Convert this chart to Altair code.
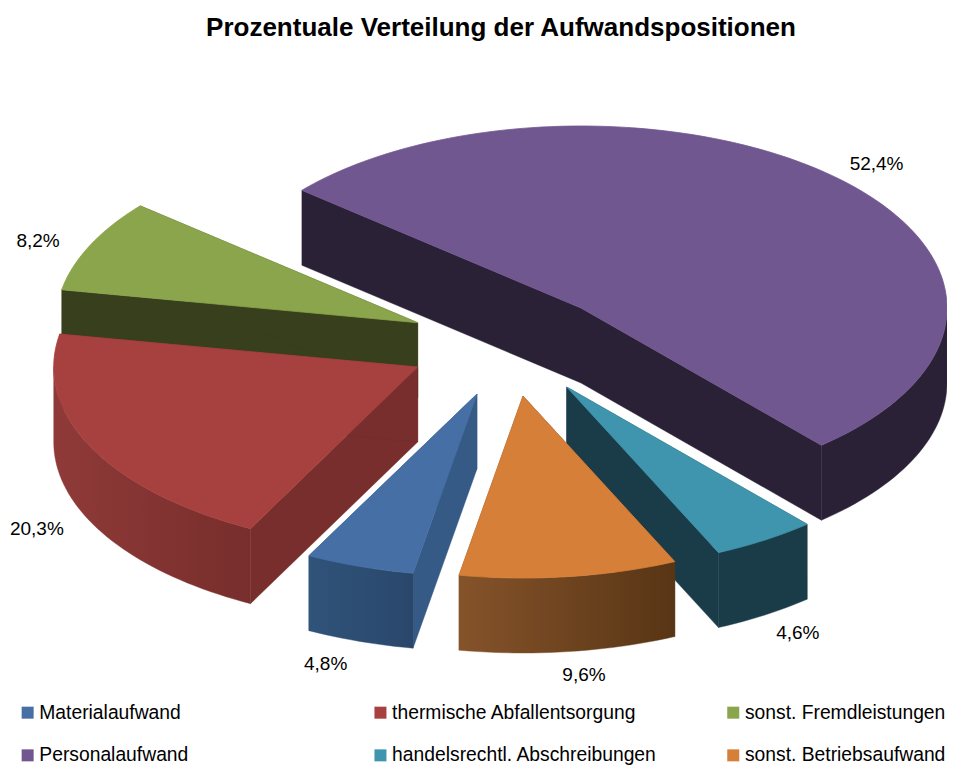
import math
import altair as alt
import pandas as pd

TITLE = "Prozentuale Verteilung der Aufwandspositionen"
# clockwise from the start of the largest slice
NAMES = ["Personalaufwand", "handelsrechtl. Abschreibungen", "sonst. Betriebsaufwand",
         "Materialaufwand", "thermische Abfallentsorgung", "sonst. Fremdleistungen"]
VALUES = [52.4, 4.6, 9.6, 4.8, 20.3, 8.2]
LABELS = ["52,4%", "4,6%", "9,6%", "4,8%", "20,3%", "8,2%"]
# the legend is filled column by column
LEGEND_ORDER = ["Materialaufwand", "Personalaufwand", "thermische Abfallentsorgung",
                "handelsrechtl. Abschreibungen", "sonst. Fremdleistungen", "sonst. Betriebsaufwand"]
TOP_COLORS = ["#71578F", "#4095AE", "#D67F39", "#4670A5", "#A6413F", "#8AA54B"]
SIDE_COLORS = ["#2B2137", "#1A3C48", "#5E3716", "#355A85", "#772E2C", "#383F1D"]
FRONT_LEFT = ["#2B2137", "#1A3C48", "#85532A", "#305379", "#8F3A38", "#383F1D"]
FRONT_RIGHT = ["#2B2137", "#1A3C48", "#583515", "#2A476B", "#772E2C", "#383F1D"]

# layout of the exploded, tilted pie
START = 310.3
DEPTH = 75
APEX = [(581, 308), (566.7, 387), (523, 396), (477, 394), (417.7, 367), (417.7, 322.7)]
RADII = [(366, 182), (366, 182), (366, 182), (366, 182), (364, 182), (362, 182)]
LABEL_SHIFT = [(38.5, -14.5), (33, 93), (15, 98), (-34, 98), (-54, 82), (-52, -4)]
DRAW_ORDER = [0, 5, 4, 1, 3, 2]


def rim(k, deg, drop=0):
    ax, ay = APEX[k]
    a, b = RADII[k]
    t = math.radians(deg)
    return ax + a * math.sin(t), ay - b * math.cos(t) + drop


def arc(k, d0, d1, drop=0):
    n = max(2, int(abs(d1 - d0) / 1.5) + 2)
    return [rim(k, d0 + (d1 - d0) * i / (n - 1), drop) for i in range(n)]


def frame(pts, poly=0, **extra):
    pts = list(pts) + [pts[0]]
    return pd.DataFrame([{"x": p[0], "y": p[1], "i": i, "poly": poly, **extra} for i, p in enumerate(pts)])


X = alt.X("x:Q", axis=None, scale=alt.Scale(domain=[8, 947], nice=False, zero=False))
Y = alt.Y("y:Q", axis=None, scale=alt.Scale(domain=[8, 766], nice=False, zero=False, reverse=True))

bounds = []
acc = START
for v in VALUES:
    bounds.append((acc, acc + v * 3.6))
    acc += v * 3.6

layers = []
fill_scale = alt.Scale(domain=LEGEND_ORDER, range=[TOP_COLORS[NAMES.index(n)] for n in LEGEND_ORDER])
legend = alt.Legend(orient="none", legendX=10, legendY=695, columns=3, gridAlign="all", title=None,
                    symbolType="square", symbolSize=144, symbolStrokeWidth=0, labelFont="Liberation Sans",
                    labelFontSize=19.3, labelColor="#000000", labelLimit=330, labelOffset=2,
                    columnPadding=65.8, rowPadding=22.7)

for k in DRAW_ORDER:
    d0, d1 = bounds[k]
    apex = APEX[k]
    # radial cut faces
    walls = []
    for poly, d in enumerate((d0, d1)):
        p = rim(k, d)
        q = rim(k, d, DEPTH)
        walls.append(frame([apex, p, q, (apex[0], apex[1] + DEPTH)], poly))
    layers.append(alt.Chart(pd.concat(walls)).mark_line(
        fill=SIDE_COLORS[k], stroke=SIDE_COLORS[k], strokeWidth=0.4).encode(
        x=X, y=Y, order="i:Q", detail="poly:N"))
    # outer rim, only the part that faces the viewer
    lo, hi = max(d0 % 360, 90), min(d1 % 360 if d1 % 360 > d0 % 360 else 360, 270)
    if k == 0:
        lo, hi = 90, d1 % 360
    if hi > lo:
        grad = alt.LinearGradient(gradient="linear", x1=0, y1=0, x2=1, y2=0,
                                  stops=[alt.GradientStop(color=FRONT_LEFT[k], offset=0),
                                         alt.GradientStop(color=FRONT_RIGHT[k], offset=1)])
        front = frame(arc(k, lo, hi) + arc(k, hi, lo, DEPTH))
        layers.append(alt.Chart(front).mark_line(fill=grad, stroke=grad, strokeWidth=0.4).encode(
            x=X, y=Y, order="i:Q"))
    # top face
    top = frame([apex] + arc(k, d0, d1), name=NAMES[k])
    layers.append(alt.Chart(top).mark_line(stroke=TOP_COLORS[k], strokeWidth=0.8).encode(
        x=X, y=Y, order="i:Q",
        fill=alt.Fill("name:N", scale=fill_scale, legend=legend)))

label_rows = []
for k, text in enumerate(LABELS):
    mid = (bounds[k][0] + bounds[k][1]) / 2
    px, py = rim(k, mid)
    label_rows.append({"x": px + LABEL_SHIFT[k][0], "y": py + LABEL_SHIFT[k][1], "t": text})
layers.append(alt.Chart(pd.DataFrame(label_rows)).mark_text(
    font="Liberation Sans", fontSize=19, color="#000000", align="center", baseline="middle"
).encode(x=X, y=Y, text="t:N"))

chart = alt.layer(*layers).properties(
    width=939, height=758, padding=0,
    autosize=alt.AutoSizeParams(type="none"),
    title=alt.Title(TITLE, font="Liberation Sans", fontSize=26, fontWeight="bold", color="#000000",
                    anchor="middle", orient="top", offset=-33, dx=23.5),
).configure_view(stroke=None)

chart.save("out.html", embed_options={"renderer": "svg", "actions": False})
